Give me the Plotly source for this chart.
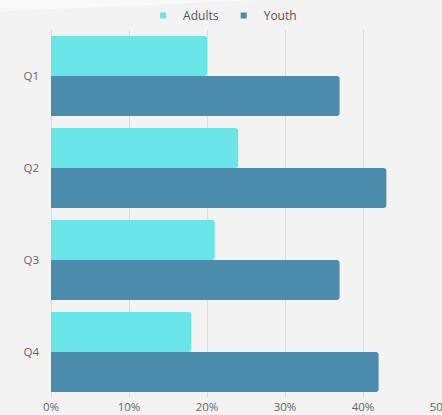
import plotly.graph_objects as go

categories = ["Q1", "Q2", "Q3", "Q4"]
adults = [20, 24, 21, 18]
youth = [37, 43, 37, 42]
x_ticks = [0, 10, 20, 30, 40, 50]
x_tick_labels = ["0%", "10%", "20%", "30%", "40%", "50%"]

adult_color = "#6ae5e7"
youth_color = "#4b8cac"

fig = go.Figure()
fig.add_trace(go.Bar(name="Adults", y=categories, x=adults, orientation="h",
                     marker=dict(color=adult_color, line=dict(width=0)), showlegend=False))
fig.add_trace(go.Bar(name="Youth", y=categories, x=youth, orientation="h",
                     marker=dict(color=youth_color, line=dict(width=0)), showlegend=False))
# legend entries with small square markers
for name, col in [("Adults", adult_color), ("Youth", youth_color)]:
    fig.add_trace(go.Scatter(name=name, x=[None], y=[None], mode="markers",
                             marker=dict(symbol="square", size=6, color=col),
                             showlegend=True, hoverinfo="skip"))

fig.update_layout(
    width=442, height=415,
    barmode="group", bargap=0.13, bargroupgap=0.0, barcornerradius=3,
    paper_bgcolor="#f3f3f3", plot_bgcolor="#f3f3f3",
    margin=dict(l=51, r=1, t=30, b=17),
    font=dict(family="Open Sans", size=12, color="#666666"),
    showlegend=True,
    legend=dict(orientation="h", x=0.44, xanchor="center", y=1.0, yanchor="bottom",
                font=dict(size=12, color="#555555"), itemwidth=30,
                bgcolor="rgba(0,0,0,0)", tracegroupgap=0),
    shapes=[dict(type="path", xref="paper", yref="paper",
                 path="M -0.131 1.082 L 0.55 1.082 L -0.131 1.05 Z",
                 fillcolor="#f9f9f9", line=dict(width=0), layer="below")],
)
fig.update_xaxes(range=[0, 50], tickvals=x_ticks, ticktext=x_tick_labels,
                 showgrid=True, gridcolor="#dcdcdc", gridwidth=1,
                 zeroline=True, zerolinecolor="#dcdcdc", zerolinewidth=1,
                 showline=False, ticks="", automargin=False,
                 ticklabeloverflow="allow", tickfont=dict(size=11.5))
fig.update_yaxes(autorange="reversed", showgrid=False, ticks="", showline=False,
                 ticklabelstandoff=11, automargin=False, tickfont=dict(size=11.5))

fig.write_html("out.html", config={"displayModeBar": False},
               post_script="document.body.style.margin='0';document.body.style.overflow='hidden';")
